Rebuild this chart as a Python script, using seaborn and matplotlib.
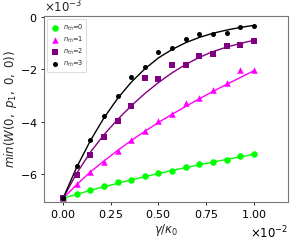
import numpy as np
import pandas as pd
import matplotlib
matplotlib.use("Agg")
import matplotlib.pyplot as plt
import seaborn as sns

# x axis: gamma / kappa_0 (in units of 1e-2), 15 sample points
gamma = [0.0, 0.0714, 0.1429, 0.2143, 0.2857, 0.3571, 0.4286, 0.5,
         0.5714, 0.6429, 0.7143, 0.7857, 0.8571, 0.9286, 1.0]

# simulated points (in units of 1e-3)
pts_n0 = [-6.93, -6.75, -6.59, -6.46, -6.31, -6.21, -6.08, -5.96,
          -5.89, -5.72, -5.61, -5.52, -5.45, -5.31, -5.25]
pts_n1 = [-6.92, -6.37, -5.90, -5.55, -5.10, -4.70, -4.37, -3.97,
          -3.70, -3.30, -3.10, -2.80, -2.54, -2.03, -2.03]
pts_n2 = [-6.92, -6.02, -5.27, -4.57, -3.99, -3.41, -2.35, -2.38,
          -1.84, -1.84, -1.48, -1.42, -1.13, -1.09, -0.94]
pts_n3 = [-6.92, -5.70, -4.70, -3.77, -3.01, -2.31, -1.93, -1.34,
          -1.21, -0.86, -0.66, -0.66, -0.62, -0.41, -0.34]

# fitted curves (in units of 1e-3)
fit_n0 = [-6.92, -6.77, -6.62, -6.48, -6.35, -6.22, -6.10, -5.98,
          -5.86, -5.75, -5.64, -5.54, -5.44, -5.34, -5.25]
fit_n1 = [-6.92, -6.40, -5.92, -5.50, -5.10, -4.72, -4.37, -4.03,
          -3.72, -3.42, -3.13, -2.85, -2.58, -2.32, -2.06]
fit_n2 = [-6.92, -5.97, -5.17, -4.50, -3.92, -3.40, -2.93, -2.51,
          -2.14, -1.82, -1.55, -1.33, -1.16, -1.02, -0.90]
fit_n3 = [-6.92, -5.74, -4.73, -3.86, -3.12, -2.50, -1.99, -1.57,
          -1.25, -0.99, -0.79, -0.63, -0.51, -0.41, -0.33]

labels = ["$n_{th}$=0", "$n_{th}$=1", "$n_{th}$=2", "$n_{th}$=3"]
colors = ["#00ff00", "#ff00ff", "#800080", "black"]
markers = ["o", "^", "s", "o"]
sizes = [22, 22, 20, 13]

sns.set_theme(style="ticks")
plt.rcParams['font.family'] = ['DejaVu Sans']
plt.rcParams['mathtext.fontset'] = 'dejavusans'

fig = plt.figure(figsize=(2.97, 2.41), dpi=100)
ax = fig.add_axes([0.148, 0.162, 0.822, 0.773])

x = np.array(gamma) * 1e-2
all_pts = [pts_n0, pts_n1, pts_n2, pts_n3]
all_fit = [fit_n0, fit_n1, fit_n2, fit_n3]

for i in range(4):
    df = pd.DataFrame({"x": x,
                       "pts": np.array(all_pts[i]) * 1e-3,
                       "fit": np.array(all_fit[i]) * 1e-3})
    sns.lineplot(data=df, x="x", y="fit", color=colors[i], linewidth=1.0,
                 legend=False, ax=ax, zorder=2)
    sns.scatterplot(data=df, x="x", y="pts", color=colors[i], marker=markers[i],
                    s=sizes[i], linewidth=0, label=labels[i], ax=ax, zorder=3)

ax.set_xlim(-0.1e-2, 1.18e-2)
ax.set_ylim(-7.06e-3, 0.04e-3)
ax.set_xticks(np.array([0, 0.25, 0.5, 0.75, 1.0]) * 1e-2)
ax.set_yticks(np.array([-6, -4, -2, 0]) * 1e-3)
ax.ticklabel_format(style='sci', axis='both', scilimits=(0, 0), useMathText=True)
ax.tick_params(labelsize=8, length=2.5, width=0.6, pad=2, colors='black')
ax.xaxis.get_offset_text().set_fontsize(8.5)
# y multiplier drawn by hand so it sits right on the top spine
ax.yaxis.get_offset_text().set_visible(False)
ax.text(0.0, 1.0, r"$\times10^{-3}$", transform=ax.transAxes,
        ha='left', va='bottom', fontsize=8.5)

for sp in ax.spines.values():
    sp.set_visible(True)
    sp.set_color('#777777')
    sp.set_linewidth(0.8)

ax.set_xlabel(r"$\gamma/\kappa_0$", fontsize=8.5, labelpad=1)
ax.set_ylabel(r"$min(W(0,\ p_1,\ 0,\ 0))$", fontsize=8.5, labelpad=1)

leg = ax.legend(loc="upper left", fontsize=4.8, frameon=True, fancybox=False,
                labelspacing=0.3, handletextpad=0.6, borderpad=0.5,
                handlelength=1.2, markerscale=1.0)
leg.get_frame().set_edgecolor('#cccccc')
leg.get_frame().set_linewidth(0.6)

fig.savefig("out.png", dpi=100)
plt.close(fig)
